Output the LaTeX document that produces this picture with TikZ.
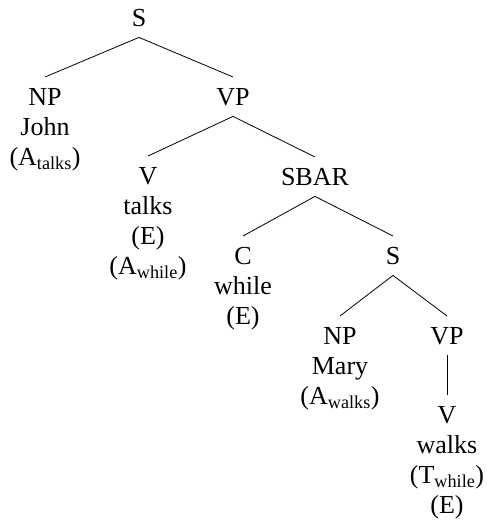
\documentclass[tikz,border=0pt]{standalone}
\usepackage{fontspec}
\setmainfont{Liberation Serif}
\begin{document}
\begin{tikzpicture}[x=1pt,y=-1pt,
  tn/.style={anchor=north, align=center, inner sep=0pt, font=\fontsize{26}{30}\selectfont},
  edge/.style={line width=0.8pt, black}]
\useasboundingbox (0,0) rectangle (487,523);
\node[tn] (S1) at (139,5) {\strut S};
\node[tn] (NP1) at (45,84) {\strut NP\\John\\(A\textsubscript{talks})};
\node[tn] (VP1) at (233,84) {\strut VP};
\node[tn] (V1) at (148,163) {\strut V\\talks\\(E)\\(A\textsubscript{while})};
\node[tn] (SBAR) at (315,164) {\strut SBAR};
\node[tn] (C) at (243,243) {\strut C\\while\\(E)};
\node[tn] (S2) at (393,243) {\strut S};
\node[tn] (NP2) at (340,323) {\strut NP\\Mary\\(A\textsubscript{walks})};
\node[tn] (VP2) at (447,323) {\strut VP};
\node[tn] (V2) at (447,402) {\strut V\\walks\\(T\textsubscript{while})\\(E)};
\draw[edge] ([yshift=-2pt]S1.south) -- ([yshift=7pt]NP1.north);
\draw[edge] ([yshift=-2pt]S1.south) -- ([yshift=7pt]VP1.north);
\draw[edge] ([yshift=-2pt]VP1.south) -- ([yshift=7pt]V1.north);
\draw[edge] ([yshift=-2pt]VP1.south) -- ([yshift=7pt]SBAR.north);
\draw[edge] ([yshift=-2pt]SBAR.south) -- ([yshift=7pt]C.north);
\draw[edge] ([yshift=-2pt]SBAR.south) -- ([yshift=7pt]S2.north);
\draw[edge] ([yshift=-2pt]S2.south) -- ([yshift=7pt]NP2.north);
\draw[edge] ([yshift=-2pt]S2.south) -- ([yshift=7pt]VP2.north);
\draw[edge] ([yshift=-2pt]VP2.south) -- ([yshift=7pt]V2.north);
\end{tikzpicture}
\end{document}
